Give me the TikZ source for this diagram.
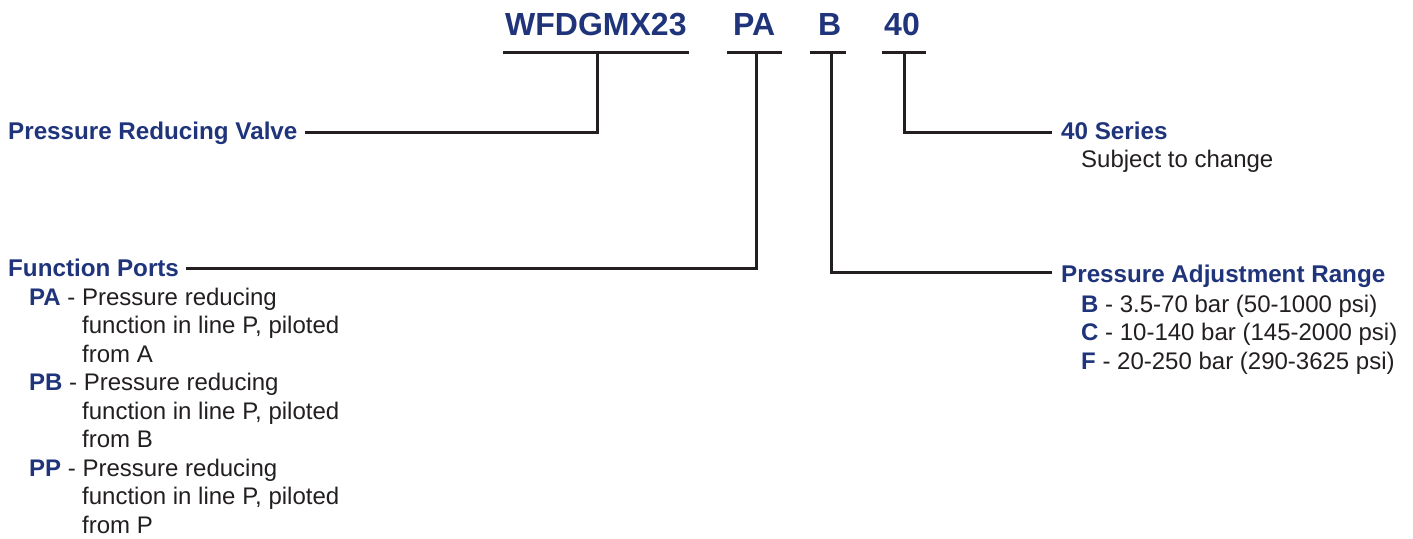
\documentclass[tikz,border=0pt]{standalone}
\usepackage{fontspec}
\setmainfont{Liberation Sans}
\definecolor{navy}{RGB}{31,52,122}
\definecolor{ink}{RGB}{35,31,32}
\begin{document}
\begin{tikzpicture}[x=1pt,y=-1pt,
  code/.style={anchor=base west,inner sep=0pt,text=navy,font=\fontsize{32}{36}\selectfont\bfseries},
  head/.style={anchor=base west,inner sep=0pt,text=navy,font=\fontsize{24.2}{28}\selectfont\bfseries},
  body/.style={anchor=base west,inner sep=0pt,text=ink,font=\fontsize{24}{28}\selectfont},
  leader/.style={draw=ink,line width=3pt}]
\useasboundingbox (0,0) rectangle (1413,538);
% code letters
\node[code] (c1) at (505,35) {WFDGMX23};
\node[code] (c2) at (733,35) {PA};
\node[code] (c3) at (818,35) {B};
\node[code] (c4) at (884,35) {40};
% underline coordinates
\coordinate (u1l) at (503,52); \coordinate (u1r) at (689,52); \coordinate (u1m) at (597.5,52);
\coordinate (u2l) at (727,52); \coordinate (u2r) at (782,52); \coordinate (u2m) at (756,52);
\coordinate (u3l) at (810,52); \coordinate (u3r) at (846,52); \coordinate (u3m) at (831,52);
\coordinate (u4l) at (882,52); \coordinate (u4r) at (926,52); \coordinate (u4m) at (904,52);
% left texts
\node[head] (prv) at (8,139) {Pressure Reducing Valve};
\coordinate (prvend) at (305,132);
\node[head] (fp) at (8,276) {Function Ports};
\coordinate (fpend) at (186,268);
\node[body] (pa1) at (29,305) {\textcolor{navy}{\bfseries PA} - Pressure reducing};
\node[body] (pa2) at (82,333.5) {function in line P, piloted};
\node[body] (pa3) at (82,362) {from A};
\node[body] (pb1) at (29,390.5) {\textcolor{navy}{\bfseries PB} - Pressure reducing};
\node[body] (pb2) at (82,419) {function in line P, piloted};
\node[body] (pb3) at (82,447.5) {from B};
\node[body] (pp1) at (29,476) {\textcolor{navy}{\bfseries PP} - Pressure reducing};
\node[body] (pp2) at (82,504.5) {function in line P, piloted};
\node[body] (pp3) at (82,533) {from P};
% right texts
\node[head] (ser) at (1061,139) {40 Series};
\coordinate (serend) at (1052,132);
\node[body] (sub) at (1081,167.5) {Subject to change};
\node[head] (par) at (1061,282) {Pressure Adjustment Range};
\coordinate (parend) at (1052,272);
\node[body] (rb) at (1081,312) {\textcolor{navy}{\bfseries B} - 3.5-70 bar (50-1000 psi)};
\node[body] (rc) at (1081,340.5) {\textcolor{navy}{\bfseries C} - 10-140 bar (145-2000 psi)};
\node[body] (rf) at (1081,369) {\textcolor{navy}{\bfseries F} - 20-250 bar (290-3625 psi)};
% leaders
\draw[leader] (u1l) -- (u1r);
\draw[leader] (u2l) -- (u2r);
\draw[leader] (u3l) -- (u3r);
\draw[leader] (u4l) -- (u4r);
\draw[leader] (u1m) |- (prvend);
\draw[leader] (u2m) |- (fpend);
\draw[leader] (u3m) |- (parend);
\draw[leader] (u4m) |- (serend);
\end{tikzpicture}
\end{document}
